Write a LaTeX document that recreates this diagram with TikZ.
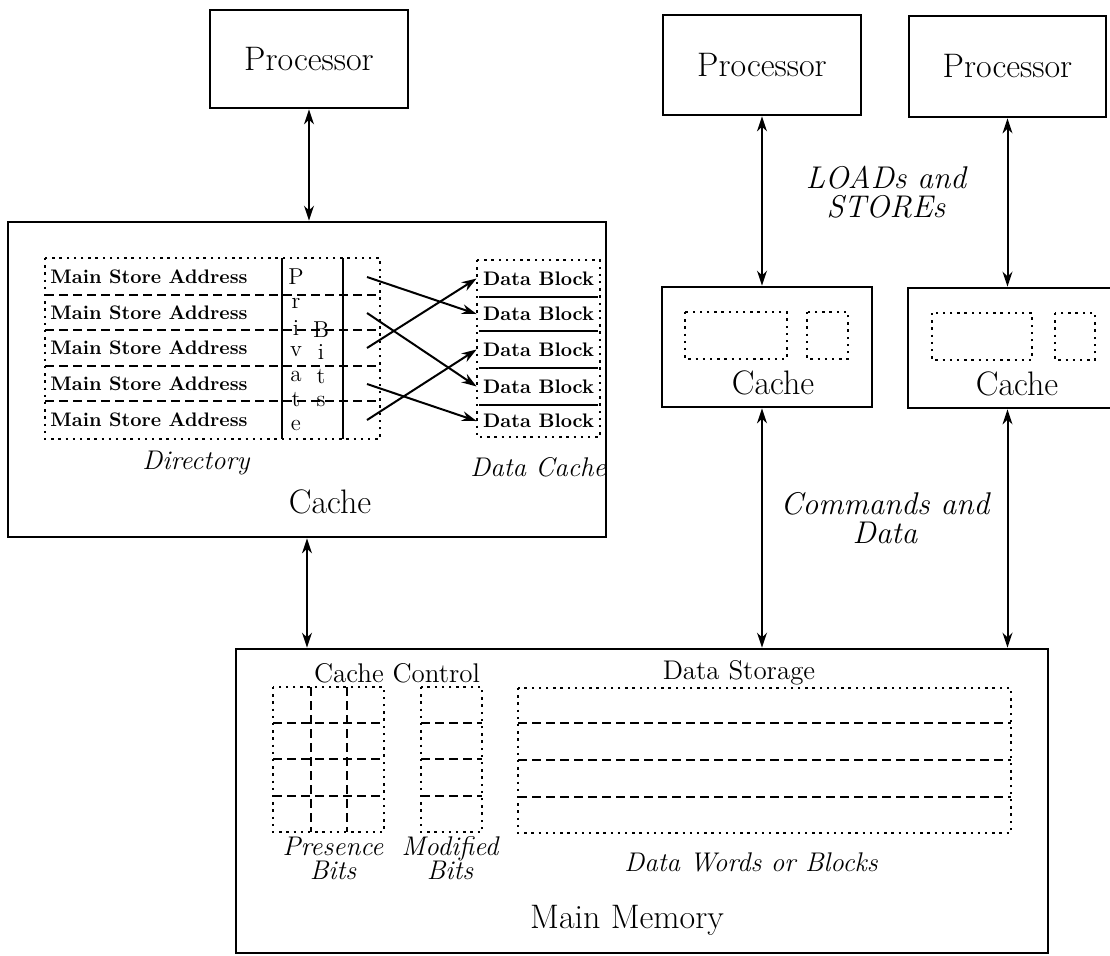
\documentclass[tikz,border=0pt]{standalone}
\usetikzlibrary{arrows.meta,calc}
\begin{document}
\begin{tikzpicture}[x=0.5pt,y=-0.5pt]
\tikzset{
 box/.style={draw, line width=1.4pt, inner sep=0pt},
 conn/.style={line width=1pt, {Stealth[length=7.5pt,width=5pt]}-{Stealth[length=7.5pt,width=5pt]}},
 link/.style={line width=1pt, -{Stealth[length=7.5pt,width=5pt]}},
 dots/.style={line width=1.2pt, dash pattern=on 1.2pt off 2.4pt},
 dashline/.style={line width=1.2pt, dash pattern=on 4.5pt off 2.5pt},
 solidline/.style={line width=1.2pt},
 big/.style={font=\fontsize{17}{20}\selectfont, inner sep=0pt},
 mid/.style={font=\fontsize{13.5}{15}\selectfont, inner sep=0pt},
 itl/.style={font=\fontsize{13.5}{12}\selectfont\itshape, inner sep=0pt, align=center},
 cmd/.style={font=\fontsize{15.7}{14.5}\selectfont\itshape, inner sep=0pt, align=center},
 small/.style={font=\fontsize{9.8}{11}\selectfont\bfseries, inner sep=0pt},
 letter/.style={font=\fontsize{11.5}{12}\selectfont, inner sep=0pt},
}
\useasboundingbox (0,0) rectangle (1110,955);

% processors
\node[box, big, minimum width=99pt, minimum height=49pt] (p1) at (309,59) {Processor};
\node[box, big, minimum width=99pt, minimum height=50pt] (p2) at (762,65) {Processor};
\node[box, big, minimum width=98.5pt, minimum height=50.5pt] (p3) at (1007.5,66.5) {Processor};

% caches
\node[box, minimum width=299pt, minimum height=157.5pt] (c1) at (307,379.5) {};
\node[box, minimum width=105pt, minimum height=60pt] (c2) at (767,347) {};
\node[box, minimum width=105pt, minimum height=60pt] (c3) at (1013,348) {};

% main memory
\node[box, minimum width=406pt, minimum height=152pt] (mm) at (642,801) {};

% connectors
\draw[conn] (p1.south) -- (p1.south |- c1.north);
\draw[conn] (p2.south) -- (p2.south |- c2.north);
\draw[conn] (p3.south) -- (p3.south |- c3.north);
\draw[conn] (c1.south) -- (c1.south |- mm.north);
\draw[conn] (p2.south |- c2.south) -- (p2.south |- mm.north);
\draw[conn] (p3.south |- c3.south) -- (p3.south |- mm.north);

\node[cmd] (ls) at (886,192) {LOADs and\\STOREs};
\node[cmd] (cd) at (885,518) {Commands and\\Data};

% left cache internals
\draw[dots] (45,258) rectangle (380,439);
\foreach \y in {295,330,366,401} \draw[dashline] (45,\y) -- (380,\y);
\draw[solidline] (282,258) -- (282,439);
\draw[solidline] (343,258) -- (343,439);
\foreach \y [count=\i] in {277,313,348,384,420} {
  \node[small, anchor=west] (msa\i) at (50,\y) {Main Store Address};
  \coordinate (d\i) at (367,\y);
}
\foreach \l/\y [count=\i] in {P/277, r/303, i/328, v/352, a/376, t/400, e/425}
  \node[letter] (pv\i) at (296,\y) {\l};
\foreach \l/\y [count=\i] in {B/330, i/352, t/377, s/401}
  \node[letter] (bt\i) at (321,\y) {\l};

\draw[dots] (477,260) rectangle (600,437);
\foreach \y in {297,331,368,405} \draw[solidline] (479,\y) -- (598,\y);
\foreach \y [count=\i] in {278.5,314,349.5,386.5,421}
  \node[small, minimum width=61.5pt] (b\i) at (538.5,\y) {Data Block};

\draw[link] (d1) -- (b2.west);
\draw[link] (d2) -- (b4.west);
\draw[link] (d3) -- (b1.west);
\draw[link] (d4) -- (b5.west);
\draw[link] (d5) -- (b3.west);

\node[itl] (dir) at (196,463) {Directory};
\node[itl] (dc) at (538,467) {Data Cache};
\node[big] (c1t) at (330,502) {Cache};

% right caches internals
\draw[dots] (685,312) rectangle (787,359);
\draw[dots] (807,312) rectangle (848,359);
\node[big] (c2t) at (773,383) {Cache};
\draw[dots] (932,313) rectangle (1032,360);
\draw[dots] (1055,313) rectangle (1095,360);
\node[big] (c3t) at (1017,384) {Cache};

% main memory internals
\node[mid] (cc) at (397,673) {Cache Control};
\draw[dots] (273,687) rectangle (384,832);
\foreach \x in {311,347} \draw[dashline] (\x,687) -- (\x,832);
\foreach \y in {723,759,796} \draw[dashline] (273,\y) -- (384,\y);
\draw[dots] (421,687) rectangle (482,832);
\foreach \y in {723,759,796} \draw[dashline] (421,\y) -- (482,\y);
\node[mid] (ds) at (739,673) {Data Storage};
\draw[dots] (518,688) rectangle (1011,833);
\foreach \y in {723,760,797} \draw[dashline] (518,\y) -- (1011,\y);

\node[itl] (pb) at (333,858) {Presence\\Bits};
\node[itl] (mb) at (450,858) {Modified\\Bits};
\node[itl] (dw) at (751,862) {Data Words or Blocks};
\node[big] (mmt) at (627,920) {Main Memory};
\end{tikzpicture}
\end{document}
